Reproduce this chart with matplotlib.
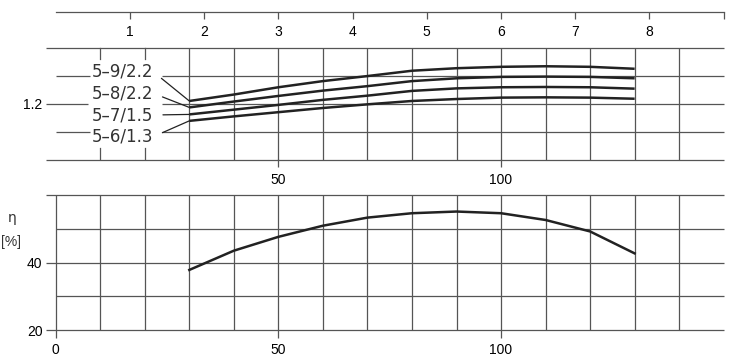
import matplotlib
matplotlib.use("Agg")
import matplotlib.pyplot as plt
from matplotlib import font_manager

# ---------------- data ----------------
flow = [30, 40, 50, 60, 70, 80, 90, 100, 110, 120, 130]          # l/min
curve_59 = [1.209, 1.232, 1.258, 1.280, 1.298, 1.317, 1.326, 1.331, 1.333, 1.331, 1.324]
curve_58 = [1.186, 1.207, 1.227, 1.246, 1.262, 1.280, 1.290, 1.295, 1.296, 1.295, 1.290]
curve_57 = [1.161, 1.178, 1.195, 1.213, 1.228, 1.245, 1.254, 1.258, 1.259, 1.258, 1.253]
curve_56 = [1.138, 1.154, 1.169, 1.184, 1.197, 1.209, 1.216, 1.221, 1.222, 1.221, 1.217]
efficiency = [37.8, 43.5, 47.6, 50.9, 53.3, 54.6, 55.1, 54.6, 52.6, 49.2, 42.7]

series_labels = ["5–9/2.2", "5–8/2.2", "5–7/1.5", "5–6/1.3"]
flow_ticks = [0, 50, 100]
upper_flow_ticks = [50, 100]
upper_y_ticks = [1.2]
eff_ticks = [20, 40]
m3h_ticks = [1, 2, 3, 4, 5, 6, 7, 8, 9]
m3h_labels = ["1", "2", "3", "4", "5", "6", "7", "8", ""]

# ---------------- style ----------------
names = {f.name for f in font_manager.fontManager.ttflist}
tick_font = "Liberation Sans Narrow" if "Liberation Sans Narrow" in names else "Liberation Sans"
GRID = "#555555"
CURVE = "#222222"
W, H = 742, 359
XMIN, XMAX = -2.18, 150
GLW = 0.9

fig = plt.figure(figsize=(W / 100, H / 100), dpi=100)

def frac_rect(x0, x1, y_top, y_bot):
    return [x0 / W, 1 - y_bot / H, (x1 - x0) / W, (y_bot - y_top) / H]

# ---------------- upper chart ----------------
ax_t = fig.add_axes(frac_rect(46, 723.7, 47.5, 159.5))
ax_t.set_xlim(XMIN, XMAX)
ax_t.set_ylim(1.0, 1.4)
for s in ax_t.spines.values():
    s.set_visible(False)

# horizontal grid lines
ax_t.hlines([1.4, 1.0], XMIN, XMAX, color=GRID, lw=GLW, clip_on=False)
ax_t.hlines([1.2], XMIN, 7.3, color=GRID, lw=GLW, clip_on=False)
ax_t.hlines([1.3, 1.1], 0, 7.6, color=GRID, lw=GLW, clip_on=False)
ax_t.hlines([1.3, 1.2, 1.1], 23.8, XMAX, color=GRID, lw=GLW, clip_on=False)
# vertical grid lines
ax_t.vlines(list(range(30, 150, 10)), 1.0, 1.4, color=GRID, lw=GLW, clip_on=False)
for xv in (10, 20):
    ax_t.axvline(xv, ymin=0, ymax=11 / 112, color=GRID, lw=GLW, clip_on=False)
    ax_t.axvline(xv, ymin=1 - 11 / 112, ymax=1, color=GRID, lw=GLW, clip_on=False)

curves = [curve_59, curve_58, curve_57, curve_56]
for c in curves:
    ax_t.plot(flow, c, color=CURVE, lw=1.8, solid_capstyle="butt", zorder=3)

label_pos_y = [1.3136, 1.2364, 1.1589, 1.0814]
for lab, c, ly in zip(series_labels, curves, label_pos_y):
    ax_t.annotate(lab, xy=(flow[0], c[0]), xytext=(21.9, ly), textcoords="data",
                  ha="right", va="center", fontsize=12, family="DejaVu Sans",
                  color="#333333",
                  arrowprops=dict(arrowstyle="-", color=CURVE, lw=0.9,
                                  relpos=(1, 0.5), shrinkA=5, shrinkB=0))

ax_t.set_xticks(upper_flow_ticks)
ax_t.set_xticklabels([str(v) for v in upper_flow_ticks], family=tick_font, fontsize=10)
ax_t.tick_params(axis="x", direction="out", length=6, width=GLW, color=GRID, pad=3.5)
ax_t.set_yticks(upper_y_ticks)
ax_t.set_yticklabels(["1.2"], family=tick_font, fontsize=10)
ax_t.tick_params(axis="y", length=0, pad=2.5)

# ---------------- top scale (m3/h) ----------------
ax_s = fig.add_axes([55.7 / W, 1 - 11.7 / H, (723.7 - 55.7) / W, 0.0001])
ax_s.set_xlim(0, 150 / 16.6667)
ax_s.set_ylim(0, 1)
for k, s in ax_s.spines.items():
    s.set_visible(k == "bottom")
ax_s.spines["bottom"].set_color(GRID)
ax_s.spines["bottom"].set_linewidth(GLW)
ax_s.set_yticks([])
ax_s.set_xticks(m3h_ticks)
ax_s.set_xticklabels(m3h_labels, family=tick_font, fontsize=10)
ax_s.tick_params(axis="x", direction="out", length=5, width=GLW, color=GRID, pad=4.5)
ax_s.patch.set_visible(False)

# ---------------- lower chart ----------------
ax_b = fig.add_axes(frac_rect(46, 723.7, 195, 330))
ax_b.set_xlim(XMIN, XMAX)
ax_b.set_ylim(20, 60)
for s in ax_b.spines.values():
    s.set_visible(False)
ax_b.hlines([20, 40, 60], XMIN, XMAX, color=GRID, lw=GLW, clip_on=False)
ax_b.hlines([30, 50], 0, XMAX, color=GRID, lw=GLW, clip_on=False)
ax_b.vlines(list(range(0, 150, 10)), 20, 60, color=GRID, lw=GLW, clip_on=False)
ax_b.plot(flow, efficiency, color=CURVE, lw=1.8, zorder=3)

ax_b.set_xticks(flow_ticks)
ax_b.set_xticklabels([str(v) for v in flow_ticks], family=tick_font, fontsize=10)
ax_b.tick_params(axis="x", direction="out", length=6, width=GLW, color=GRID, pad=3.5)
ax_b.set_yticks(eff_ticks)
ax_b.set_yticklabels([str(v) for v in eff_ticks], family=tick_font, fontsize=10)
ax_b.tick_params(axis="y", length=0, pad=2.5)

fig.text(12.3 / W, 1 - 218 / H, "η", ha="center", va="center", fontsize=10,
         family="DejaVu Sans", color="#333333")
fig.text(11 / W, 1 - 241.7 / H, "[%]", ha="center", va="center", fontsize=10,
         family=tick_font, color="#333333")

fig.savefig("out.png", dpi=100)
